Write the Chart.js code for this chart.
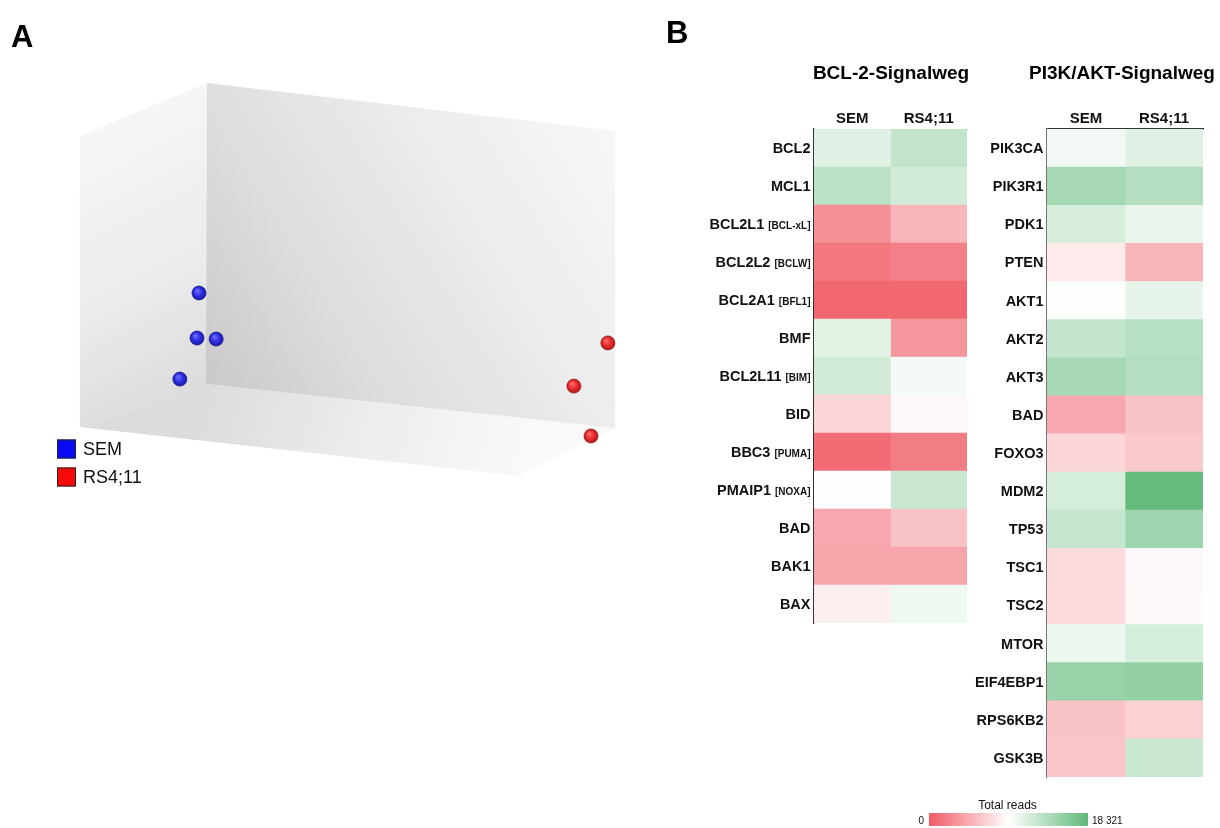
<!DOCTYPE html>
<html>
<head>
<meta charset="utf-8">
<title>RNA-Seq: PCA und Signalwege</title>
<script src="https://cdn.jsdelivr.net/npm/chart.js@4.4.1/dist/chart.umd.min.js"></script>
<style>
  html, body { margin: 0; padding: 0; background: #fff; }
  body { width: 1220px; height: 828px; position: relative; overflow: hidden; }
  canvas { position: absolute; }
  #pca  { left: 0;     top: 0; }
  #bcl  { left: 660px; top: 0; }
  #pi3k { left: 900px; top: 0; }
</style>
</head>
<body>
<canvas id="pca" width="660" height="520"></canvas>
<canvas id="bcl" width="320" height="640"></canvas>
<canvas id="pi3k" width="320" height="828"></canvas>
<script>
// ---- Panel A: samples on the first principal components ----
const semPC1 = [-0.397, -0.403, -0.345, -0.455];
const semPC2 = [-0.127, -0.300, -0.304, -0.458];
const rsPC1  = [0.842, 0.739, 0.791];
const rsPC2  = [-0.319, -0.485, -0.677];

// ---- Panel B: total reads per gene ----
const cellLines = ['SEM', 'RS4;11'];

const bclGenes   = ['BCL2', 'MCL1', 'BCL2L1', 'BCL2L2', 'BCL2A1', 'BMF', 'BCL2L11', 'BID', 'BBC3', 'PMAIP1', 'BAD', 'BAK1', 'BAX'];
const bclAliases = ['', '', 'BCL-xL', 'BCLW', 'BFL1', '', 'BIM', '', 'PUMA', 'NOXA', '', '', ''];
const bclSEM     = [10990, 13010, 3020, 1650, 730, 10900, 11820, 6870, 1010, 9070, 4300, 4120, 8240];
const bclRS      = [12730, 11730, 5130, 2110, 780, 3300, 9800, 8790, 1920, 12280, 5750, 4180, 10080];

const pi3kGenes = ['PIK3CA', 'PIK3R1', 'PDK1', 'PTEN', 'AKT1', 'AKT2', 'AKT3', 'BAD', 'FOXO3', 'MDM2', 'TP53', 'TSC1', 'TSC2', 'MTOR', 'EIF4EBP1', 'RPS6KB2', 'GSK3B'];
const pi3kSEM   = [9890, 14290, 11450, 8060, 9340, 12550, 14290, 4300, 6870, 11540, 12460, 7150, 7200, 10260, 15020, 5860, 5950];
const pi3kRS    = [10990, 13470, 10440, 5130, 10540, 13280, 13470, 5750, 6140, 18050, 14660, 8700, 8750, 11540, 15300, 6600, 12280];

const readsMin = 0;
const readsMax = 18321;
const readsTickLabels = ['0', '18 321'];

// ---- shared styling ----
const FAMILY = "'Liberation Sans', Arial, Helvetica, sans-serif";
const RED = [240, 90, 100], WHITE = [255, 255, 255], GREEN = [95, 185, 120];

function mix(a, b, f) {
  return a.map((c, i) => Math.round(c + (b[i] - c) * f));
}
function readsColor(v) {
  const t = Math.max(0, Math.min(1, (v - readsMin) / (readsMax - readsMin)));
  const c = t < 0.5 ? mix(RED, WHITE, t / 0.5) : mix(WHITE, GREEN, (t - 0.5) / 0.5);
  return `rgb(${c[0]},${c[1]},${c[2]})`;
}

// Panel letters and free-standing headings
const headings = {
  id: 'headings',
  afterDraw(chart, args, opts) {
    const ctx = chart.ctx;
    ctx.save();
    ctx.fillStyle = '#000';
    ctx.textBaseline = 'alphabetic';
    (opts.items || []).forEach(it => {
      ctx.font = `${it.weight || 'bold'} ${it.size}px ${FAMILY}`;
      ctx.textAlign = it.align || 'left';
      ctx.fillText(it.text, it.x, it.y);
    });
    ctx.restore();
  }
};

// ---- Panel A ----
// corners of the viewing box, in the same component units as the samples
const BOX = {
  backTL: [-0.373, 0.681], backTR: [0.864, 0.496], backBR: [0.864, -0.646], backBL: [-0.376, -0.477],
  leftTL: [-0.758, 0.477], leftBL: [-0.758, -0.642], floorFR: [0.570, -0.831]
};

const roomBox = {
  id: 'roomBox',
  beforeDatasetsDraw(chart) {
    const { ctx, scales: { x, y } } = chart;
    const P = c => [x.getPixelForValue(c[0]), y.getPixelForValue(c[1])];
    const face = (corners, from, to, stops) => {
      const a = P(from), b = P(to);
      const g = ctx.createLinearGradient(a[0], a[1], b[0], b[1]);
      stops.forEach(s => g.addColorStop(s[0], s[1]));
      ctx.beginPath();
      corners.map(P).forEach((p, i) => i ? ctx.lineTo(p[0], p[1]) : ctx.moveTo(p[0], p[1]));
      ctx.closePath();
      ctx.fillStyle = g;
      ctx.fill();
    };
    ctx.save();
    // floor
    face([BOX.backBL, BOX.backBR, BOX.floorFR, BOX.leftBL], BOX.backBL, BOX.floorFR,
      [[0, '#dcdcdc'], [0.5, '#ececec'], [1, '#f9f9f9']]);
    // left wall
    face([BOX.leftTL, BOX.backTL, BOX.backBL, BOX.leftBL], BOX.leftTL, BOX.backBL,
      [[0, '#f6f6f6'], [0.6, '#ebebeb'], [1, '#dcdcdc']]);
    // back wall
    face([BOX.backTL, BOX.backTR, BOX.backBR, BOX.backBL], BOX.backBL, BOX.backTR,
      [[0, '#c9c9c9'], [0.3, '#dddddd'], [0.65, '#ececec'], [1, '#f7f7f7']]);
    ctx.restore();
  }
};

const pcaLegend = {
  id: 'pcaLegend',
  afterDraw(chart, args, opts) {
    const ctx = chart.ctx;
    ctx.save();
    ctx.font = `18px ${FAMILY}`;
    ctx.textBaseline = 'middle';
    ctx.textAlign = 'left';
    chart.data.datasets.forEach((ds, i) => {
      const cy = opts.y + i * opts.step;
      ctx.fillStyle = ds.legendColor;
      ctx.fillRect(opts.x, cy - 9.5, 19, 19);
      ctx.strokeStyle = '#222';
      ctx.lineWidth = 1;
      ctx.strokeRect(opts.x + 0.5, cy - 9, 18, 18);
      ctx.fillStyle = '#111';
      ctx.fillText(ds.label, opts.x + 26, cy + 1);
    });
    ctx.restore();
  }
};

function sphere(base, light, dark) {
  return c => {
    const ch = c.chart;
    if (!c.raw || !ch.scales || !ch.scales.x || !ch.scales.y) return base;
    const px = ch.scales.x.getPixelForValue(c.raw.x);
    const py = ch.scales.y.getPixelForValue(c.raw.y);
    if (!Number.isFinite(px) || !Number.isFinite(py)) return base;
    const g = ch.ctx.createRadialGradient(px - 2, py - 2.5, 0.5, px, py, 7.5);
    g.addColorStop(0, light);
    g.addColorStop(0.55, base);
    g.addColorStop(1, dark);
    return g;
  };
}

new Chart(document.getElementById('pca'), {
  type: 'scatter',
  data: {
    datasets: [
      {
        label: cellLines[0],
        legendColor: '#0a0af5',
        data: semPC1.map((v, i) => ({ x: v, y: semPC2[i] })),
        pointRadius: 7,
        pointBorderWidth: 0.8,
        pointBorderColor: '#1a1a90',
        pointBackgroundColor: sphere('#2d2de0', '#6a6aff', '#15159a')
      },
      {
        label: cellLines[1],
        legendColor: '#f50a0a',
        data: rsPC1.map((v, i) => ({ x: v, y: rsPC2[i] })),
        pointRadius: 7,
        pointBorderWidth: 0.8,
        pointBorderColor: '#962020',
        pointBackgroundColor: sphere('#e62a2a', '#ff6a6a', '#a51616')
      }
    ]
  },
  options: {
    responsive: false,
    animation: false,
    devicePixelRatio: 1,
    layout: { padding: 0, autoPadding: false },
    scales: {
      x: { type: 'linear', min: -1, max: 1, display: false },
      y: { type: 'linear', min: -1, max: 1, display: false }
    },
    plugins: {
      legend: { display: false },
      tooltip: { enabled: false },
      pcaLegend: { x: 57, y: 449, step: 28 },
      headings: { items: [{ text: 'A', x: 11, y: 47, size: 31 }] }
    }
  },
  plugins: [roomBox, pcaLegend, headings]
});

// ---- Panel B: heatmaps ----
const geneLabels = {
  id: 'geneLabels',
  afterDraw(chart, args, opts) {
    const { ctx, chartArea, scales: { y } } = chart;
    const right = chartArea.left - opts.gap;
    ctx.save();
    ctx.fillStyle = '#111';
    ctx.textBaseline = 'alphabetic';
    ctx.textAlign = 'right';
    chart.data.labels.forEach((g, i) => {
      const base = y.getPixelForValue(i) + 5;
      let x = right;
      const alias = opts.aliases ? opts.aliases[i] : '';
      if (alias) {
        const s = '[' + alias + ']';
        ctx.font = `bold 10px ${FAMILY}`;
        ctx.fillText(s, x, base);
        x -= ctx.measureText(s).width + 4;
      }
      ctx.font = `bold 14.5px ${FAMILY}`;
      ctx.fillText(g, x, base);
    });
    ctx.restore();
  }
};

const colorBar = {
  id: 'colorBar',
  afterDraw(chart, args, opts) {
    if (!opts.show) return;
    const ctx = chart.ctx;
    const { x0, x1, y0, h } = opts;
    ctx.save();
    const g = ctx.createLinearGradient(x0, 0, x1, 0);
    for (let k = 0; k <= 20; k++) {
      const v = readsMin + (readsMax - readsMin) * k / 20;
      g.addColorStop(k / 20, readsColor(v));
    }
    ctx.fillStyle = g;
    ctx.fillRect(x0, y0, x1 - x0, h);
    ctx.fillStyle = '#111';
    ctx.textBaseline = 'alphabetic';
    ctx.font = `12px ${FAMILY}`;
    ctx.textAlign = 'center';
    ctx.fillText('Total reads', (x0 + x1) / 2 - 1, y0 - 4);
    ctx.font = `10px ${FAMILY}`;
    ctx.textAlign = 'right';
    ctx.fillText(readsTickLabels[0], x0 - 5, y0 + 11);
    ctx.textAlign = 'left';
    ctx.fillText(readsTickLabels[1], x1 + 4, y0 + 11);
    ctx.restore();
  }
};

function heatmap(id, genes, aliases, semVals, rsVals, cfg) {
  return new Chart(document.getElementById(id), {
    type: 'bar',
    data: {
      labels: genes,
      datasets: [
        { label: cellLines[0], data: genes.map(() => 1), backgroundColor: semVals.map(readsColor) },
        { label: cellLines[1], data: genes.map(() => 1), backgroundColor: rsVals.map(readsColor) }
      ]
    },
    options: {
      indexAxis: 'y',
      responsive: false,
      animation: false,
      devicePixelRatio: 1,
      layout: { padding: { left: 0, top: 0, right: cfg.padRight, bottom: cfg.padBottom } },
      datasets: { bar: { barPercentage: 1, categoryPercentage: 1, borderWidth: 0 } },
      scales: {
        x: {
          type: 'linear', position: 'top', stacked: true, min: 0, max: 2,
          grid: { display: false, drawTicks: false },
          border: { display: true, color: cfg.topBorder, width: cfg.topWidth },
          afterBuildTicks: s => { s.ticks = [{ value: 0.5 }, { value: 1.5 }]; },
          afterFit: s => { s.height = cfg.axisHeight; },
          ticks: {
            padding: 1, color: '#111', autoSkip: false, maxRotation: 0,
            font: { family: FAMILY, size: 15, weight: 'bold' },
            callback: (v, i) => cellLines[i]
          }
        },
        y: {
          type: 'category', stacked: true, offset: true,
          grid: { display: false, drawTicks: false },
          border: { display: true, color: cfg.leftBorder, width: 1.3 },
          ticks: { display: false },
          afterFit: s => { s.width = cfg.axisWidth; }
        }
      },
      plugins: {
        legend: { display: false },
        tooltip: { enabled: false },
        geneLabels: { aliases: aliases, gap: 3.5 },
        headings: { items: cfg.headings },
        colorBar: cfg.colorBar || { show: false }
      }
    },
    plugins: [geneLabels, headings, colorBar]
  });
}

heatmap('bcl', bclGenes, bclAliases, bclSEM, bclRS, {
  axisWidth: 154, axisHeight: 129, padRight: 13, padBottom: 17,
  topBorder: '#c4c4c4', topWidth: 1, leftBorder: '#333',
  headings: [
    { text: 'B', x: 6, y: 43, size: 31 },
    { text: 'BCL-2-Signalweg', x: 231, y: 79, size: 19, align: 'center' }
  ]
});

heatmap('pi3k', pi3kGenes, null, pi3kSEM, pi3kRS, {
  axisWidth: 147, axisHeight: 129, padRight: 17, padBottom: 51,
  topBorder: '#333', topWidth: 1.5, leftBorder: '#777',
  headings: [
    { text: 'PI3K/AKT-Signalweg', x: 222, y: 79, size: 19, align: 'center' }
  ],
  colorBar: { show: true, x0: 29, x1: 188, y0: 813, h: 13 }
});
</script>
</body>
</html>
